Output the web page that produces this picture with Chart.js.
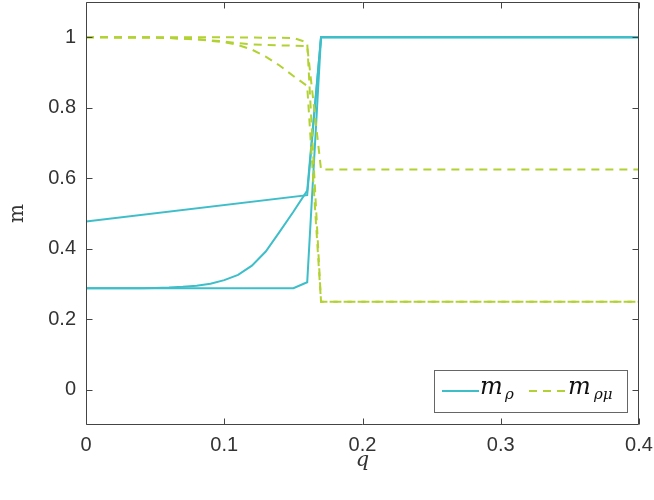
<!DOCTYPE html>
<html><head><meta charset="utf-8">
<script src="https://cdn.jsdelivr.net/npm/chart.js@4/dist/chart.umd.min.js"></script>
<style>html,body{margin:0;padding:0;background:#fff}canvas{display:block}</style>
</head><body>
<canvas id="c" width="654" height="500"></canvas>
<script>
// ---- data ----
const xTicks = [0, 0.1, 0.2, 0.3, 0.4];
const yTicks = [0, 0.2, 0.4, 0.6, 0.8, 1];

// m_rho (solid) – three runs
const rho1Q = [0, 0.16, 0.17, 0.4];
const rho1V = [0.477, 0.552, 1, 1];
const rho2Q = [0, 0.01, 0.02, 0.03, 0.04, 0.05, 0.06, 0.07, 0.08, 0.09, 0.10, 0.11, 0.12, 0.13, 0.14, 0.15, 0.16, 0.17, 0.4];
const rho2V = [0.288, 0.288, 0.288, 0.288, 0.288, 0.289, 0.290, 0.292, 0.295, 0.301, 0.311, 0.326, 0.352, 0.392, 0.448, 0.505, 0.565, 1, 1];
const rho3Q = [0, 0.15, 0.16, 0.17, 0.4];
const rho3V = [0.288, 0.288, 0.305, 1, 1];

// m_rho_mu (dashed) – three runs
const rhoMu1Q = [0, 0.10, 0.15, 0.16, 0.17, 0.4];
const rhoMu1V = [1, 1, 0.998, 0.985, 0.25, 0.25];
const rhoMu2Q = [0, 0.05, 0.08, 0.10, 0.11, 0.12, 0.13, 0.14, 0.15, 0.16, 0.17, 0.4];
const rhoMu2V = [1, 0.999, 0.995, 0.988, 0.983, 0.980, 0.978, 0.977, 0.976, 0.975, 0.625, 0.625];
const rhoMu3Q = [0, 0.05, 0.06, 0.07, 0.08, 0.09, 0.10, 0.11, 0.12, 0.13, 0.14, 0.15, 0.16, 0.17, 0.4];
const rhoMu3V = [1, 0.999, 0.998, 0.996, 0.994, 0.990, 0.986, 0.978, 0.965, 0.945, 0.920, 0.890, 0.862, 0.25, 0.25];

const CYAN = 'rgb(62,190,201)';
const GREEN = 'rgb(178,210,52)';
const AXIS = '#444';

const pts = (q, v) => q.map((x, i) => ({x, y: v[i]}));
const solid = (q, v) => ({data: pts(q, v), borderColor: CYAN, borderWidth: 2, pointRadius: 0, fill: false, tension: 0, order: 2});
const dashed = (q, v) => ({data: pts(q, v), borderColor: GREEN, borderWidth: 2, borderDash: [8, 6], pointRadius: 0, fill: false, tension: 0, order: 1});

const zeroPad = s => { s.paddingTop = 0; s.paddingBottom = 0; s.paddingLeft = 0; s.paddingRight = 0; };

const boxPlugin = {
  id: 'box',
  afterDatasetsDraw(chart) {
    const {ctx, chartArea: a, scales: {x, y}} = chart;
    ctx.save();
    ctx.strokeStyle = AXIS; ctx.lineWidth = 1;
    const L = Math.round(a.left) + 0.5, R = Math.round(a.right) - 0.5, T = Math.round(a.top) + 0.5, B = Math.round(a.bottom) - 0.5;
    ctx.beginPath();
    ctx.rect(L, T, R - L, B - T);
    const tl = 6;
    xTicks.forEach(v => { const p = Math.round(x.getPixelForValue(v)) + 0.5; ctx.moveTo(p, B); ctx.lineTo(p, B - tl); ctx.moveTo(p, T); ctx.lineTo(p, T + tl); });
    yTicks.forEach(v => { const p = Math.round(y.getPixelForValue(v)) + 0.5; ctx.moveTo(L, p); ctx.lineTo(L + tl, p); ctx.moveTo(R, p); ctx.lineTo(R - tl, p); });
    ctx.stroke();
    ctx.restore();
  },
  afterDraw(chart) {
    const {ctx} = chart;
    ctx.save();
    const bx = 434.5, by = 370.5, bw = 193, bh = 42;
    ctx.fillStyle = '#fff'; ctx.fillRect(bx, by, bw, bh);
    ctx.strokeStyle = '#666'; ctx.lineWidth = 1; ctx.strokeRect(bx, by, bw, bh);
    const cy = 391;
    ctx.lineWidth = 2;
    ctx.strokeStyle = CYAN; ctx.setLineDash([]);
    ctx.beginPath(); ctx.moveTo(442, cy); ctx.lineTo(479, cy); ctx.stroke();
    ctx.strokeStyle = GREEN; ctx.setLineDash([8, 6]);
    ctx.beginPath(); ctx.moveTo(529, cy); ctx.lineTo(567, cy); ctx.stroke();
    ctx.setLineDash([]);
    ctx.fillStyle = '#111'; ctx.textBaseline = 'alphabetic'; ctx.textAlign = 'left';
    ctx.font = 'italic 24px "DejaVu Serif"';
    ctx.fillText('m', 480, 394);
    ctx.fillText('m', 568, 394);
    ctx.font = 'italic 15px "DejaVu Serif"';
    ctx.fillText('ρ', 505, 399);
    ctx.fillText('ρμ', 594, 399);
    ctx.restore();
  }
};

new Chart(document.getElementById('c'), {
  type: 'line',
  data: {datasets: [
    solid(rho1Q, rho1V), solid(rho2Q, rho2V), solid(rho3Q, rho3V),
    dashed(rhoMu1Q, rhoMu1V), dashed(rhoMu2Q, rhoMu2V), dashed(rhoMu3Q, rhoMu3V)
  ]},
  options: {
    responsive: false, animation: false, devicePixelRatio: 1,
    layout: {padding: {top: 2, right: 15, left: 0, bottom: 0}},
    plugins: {legend: {display: false}, tooltip: {enabled: false}},
    scales: {
      x: {
        type: 'linear', min: 0, max: 0.4,
        afterBuildTicks: s => { s.ticks = xTicks.map(v => ({value: v})); },
        afterFit: s => { s.height = 75; zeroPad(s); },
        grid: {display: false, drawTicks: false}, border: {display: false},
        ticks: {color: '#333', font: {family: 'Liberation Sans', size: 20}, padding: 8, maxRotation: 0, callback: v => String(v)},
        title: {display: true, text: 'q', color: '#333', font: {family: 'DejaVu Serif', style: 'italic', size: 21}, padding: {top: 0, bottom: 27}}
      },
      y: {
        type: 'linear', min: -0.1, max: 1.1,
        afterBuildTicks: s => { s.ticks = yTicks.map(v => ({value: v})); },
        afterFit: s => { s.width = 86; zeroPad(s); },
        grid: {display: false, drawTicks: false}, border: {display: false},
        ticks: {color: '#333', font: {family: 'Liberation Sans', size: 20}, padding: 10, callback: v => String(v)},
        title: {display: true, text: 'm', color: '#333', font: {family: 'DejaVu Serif', size: 20}, padding: {top: 6, bottom: 0}}
      }
    }
  },
  plugins: [boxPlugin]
});
</script>
</body></html>
